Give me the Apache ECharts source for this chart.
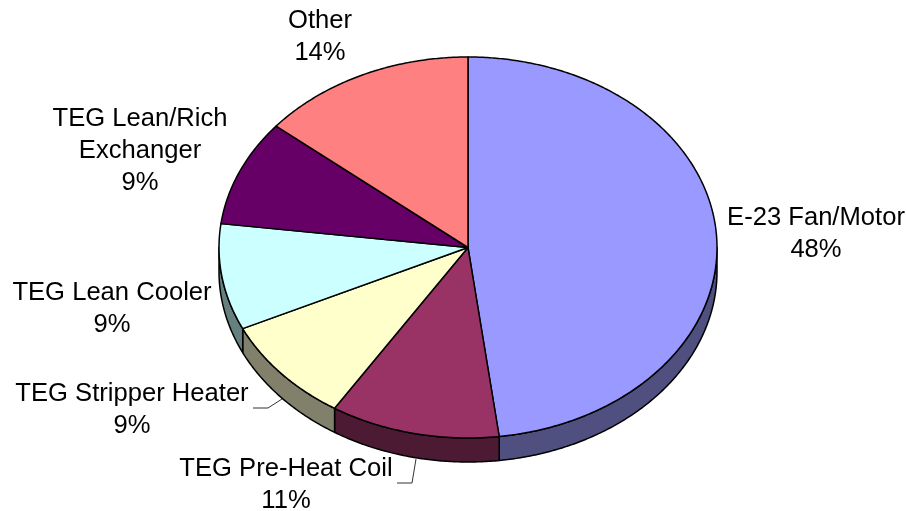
<!DOCTYPE html>
<html>
<head>
<meta charset="utf-8">
<style>html,body{margin:0;padding:0;background:#fff}#chart{width:906px;height:511px}</style>
<script src="https://cdn.jsdelivr.net/npm/echarts@6/dist/echarts.min.js"></script>
</head>
<body>
<div id="chart"></div>
<script>
// Energy share by equipment item, clockwise from twelve o'clock
const categories = ['E-23 Fan/Motor', 'TEG Pre-Heat Coil', 'TEG Stripper Heater', 'TEG Lean Cooler', 'TEG Lean/Rich\nExchanger', 'Other'];
const shares = [48, 11, 9, 9, 9, 14];
const faceColors = ['#9999FF', '#993366', '#FFFFCC', '#CCFFFF', '#660066', '#FF8080'];
const sideColors = ['#4F4F80', '#4D1A33', '#80806B', '#668080', '#330033', '#804040'];

// Tilted disc layout
const disc = { cx: 468, cy: 247.5, rx: 249, ry: 190.5, depth: 24 };
const total = shares.reduce((a, b) => a + b, 0);

// Label centres and optional leader lines, per category
const labelCentres = [[816, 234], [286, 485], [132, 410], [112, 309], [140, 151], [320, 37]];
const leaders = [null, [[397, 483], [412, 483], [416, 459]], [[253, 408], [268, 408], [282, 399]], null, null, null];

const rimPoint = (deg, dy) => {
  const t = deg * Math.PI / 180;
  return [disc.cx + disc.rx * Math.sin(t), disc.cy - disc.ry * Math.cos(t) + (dy || 0)];
};
const arcPoints = (from, to, dy) => {
  const pts = [];
  const n = Math.max(2, Math.ceil(Math.abs(to - from) * 2));
  for (let i = 0; i <= n; i++) pts.push(rimPoint(from + (to - from) * i / n, dy));
  return pts;
};

const starts = [];
shares.reduce((sum, v, i) => { starts[i] = sum; return sum + v; }, 0);

function renderSlice(params, api) {
  const i = params.dataIndex;
  const a0 = starts[i] / total * 360;
  const a1 = a0 + api.value(0) / total * 360;
  const outline = { stroke: '#000', lineWidth: 1.5, lineJoin: 'round' };
  const children = [];

  // Only the near half of the rim shows its thickness
  const s0 = Math.max(a0, 90), s1 = Math.min(a1, 270);
  if (s1 > s0) {
    const top = arcPoints(s0, s1, 0);
    const bottom = arcPoints(s1, s0, disc.depth);
    children.push({
      type: 'polygon',
      shape: { points: top.concat(bottom) },
      style: Object.assign({ fill: sideColors[i] }, outline)
    });
  }
  children.push({
    type: 'polygon',
    shape: { points: [[disc.cx, disc.cy]].concat(arcPoints(a0, a1, 0)) },
    style: Object.assign({ fill: faceColors[i] }, outline)
  });

  if (leaders[i]) {
    children.push({
      type: 'polyline',
      shape: { points: leaders[i] },
      style: { stroke: '#333', lineWidth: 1, fill: null }
    });
  }
  children.push({
    type: 'text',
    x: labelCentres[i][0],
    y: labelCentres[i][1],
    style: {
      text: categories[i] + '\n' + api.value(0) + '%',
      font: '25.6px "Liberation Sans", Arial, sans-serif',
      lineHeight: 32,
      fill: '#000',
      align: 'center',
      verticalAlign: 'middle'
    }
  });
  return { type: 'group', children };
}

const chart = echarts.init(document.getElementById('chart'), null, { renderer: 'canvas' });
chart.setOption({
  animation: false,
  backgroundColor: '#fff',
  series: [{
    type: 'custom',
    coordinateSystem: 'none',
    renderItem: renderSlice,
    data: shares.map((v, i) => ({ name: categories[i], value: [v] }))
  }]
});
</script>
</body>
</html>
